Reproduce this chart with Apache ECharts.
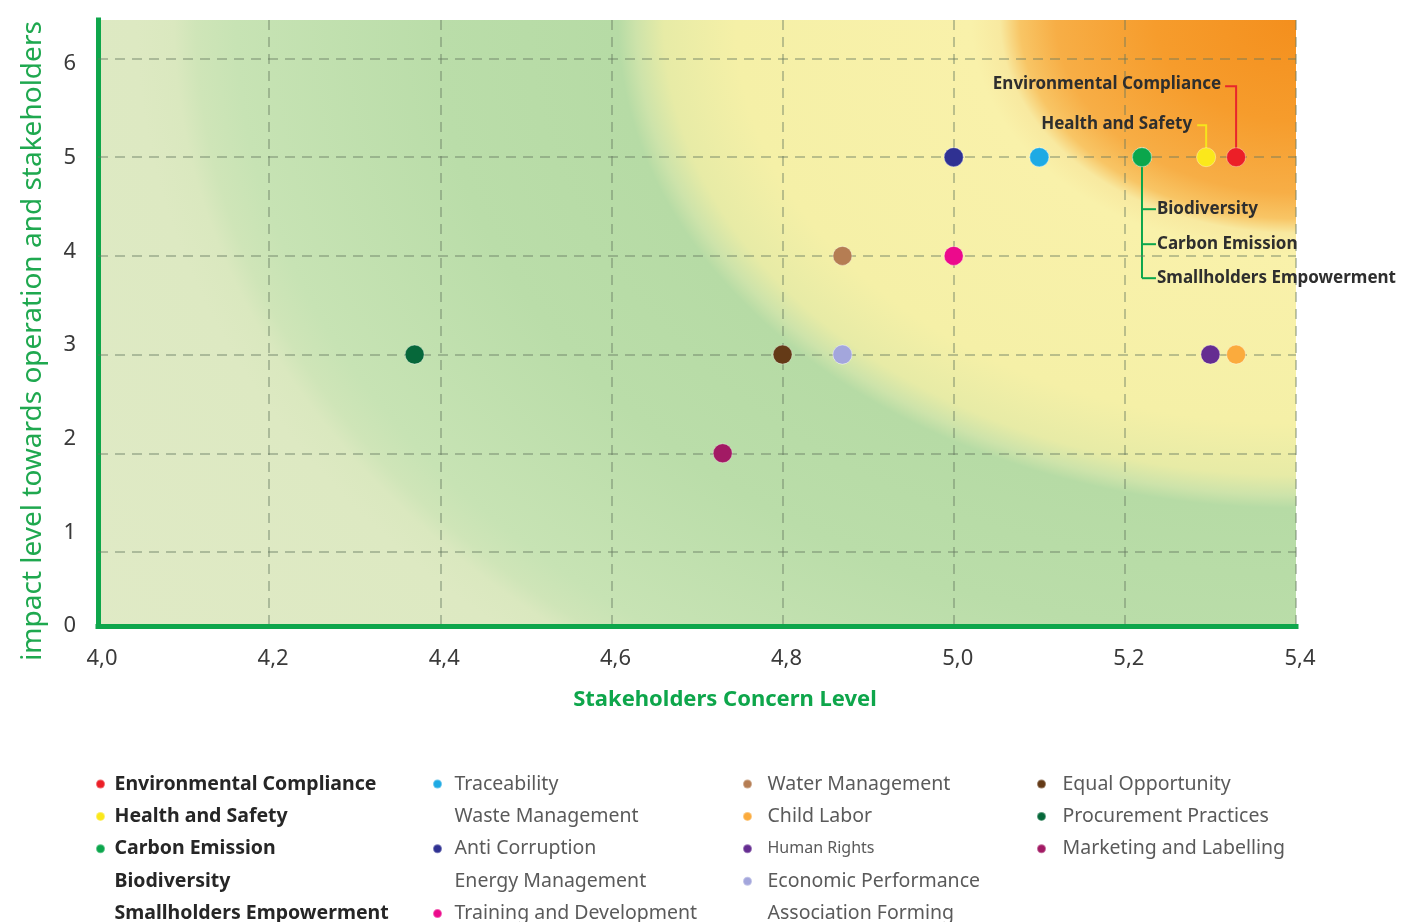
<!DOCTYPE html>
<html>
<head>
<meta charset="utf-8">
<title>Materiality Matrix</title>
<script src="https://cdn.jsdelivr.net/npm/echarts@6/dist/echarts.min.js"></script>
<style>
  html, body { margin: 0; padding: 0; background: #ffffff; }
  #chart { width: 1407px; height: 922px; }
</style>
</head>
<body>
<div id="chart"></div>
<script>
// ---------- data ----------
const topics = [
  'Environmental Compliance', 'Health and Safety', 'Carbon Emission', 'Biodiversity',
  'Smallholders Empowerment', 'Traceability', 'Waste Management', 'Anti Corruption',
  'Energy Management', 'Training and Development', 'Water Management', 'Child Labor',
  'Human Rights', 'Economic Performance', 'Association Forming', 'Equal Opportunity',
  'Procurement Practices', 'Marketing and Labelling'
];
// Stakeholders concern level (x)
const concern = [5.33, 5.295, 5.22, 5.22, 5.22, 5.10, 5.10, 5.00, 5.00, 5.00, 4.87, 5.33,
                 5.30, 4.87, 4.87, 4.80, 4.37, 4.73];
// Impact level towards operation and stakeholders (y)
const impact = [5, 5, 5, 5, 5, 5, 5, 5, 5, 4, 4, 3, 3, 3, 3, 3, 3, 2];

const impactLevels = [1, 2, 3, 4, 5, 6];
const concernMin = 4.0, concernMax = 5.4, concernStep = 0.2;

const legendColumns = [
  ['Environmental Compliance', 'Health and Safety', 'Carbon Emission', 'Biodiversity', 'Smallholders Empowerment'],
  ['Traceability', 'Waste Management', 'Anti Corruption', 'Energy Management', 'Training and Development'],
  ['Water Management', 'Child Labor', 'Human Rights', 'Economic Performance', 'Association Forming'],
  ['Equal Opportunity', 'Procurement Practices', 'Marketing and Labelling']
];
// topics that sit on the same dot as the entry listed above them
const sharedMarker = ['Biodiversity', 'Smallholders Empowerment', 'Waste Management',
                      'Energy Management', 'Association Forming'];

// ---------- styles ----------
const FONT = '"Noto Sans", "Open Sans", sans-serif';
const GREEN = '#0ea64b';
const colorOf = {
  'Environmental Compliance': '#ec1f27',
  'Health and Safety': '#fbe81b',
  'Carbon Emission': '#0ba64c',
  'Biodiversity': '#0ba64c',
  'Smallholders Empowerment': '#0ba64c',
  'Traceability': '#1eaae4',
  'Waste Management': '#1eaae4',
  'Anti Corruption': '#2f3192',
  'Energy Management': '#2f3192',
  'Training and Development': '#ec0a8c',
  'Water Management': '#b57d53',
  'Child Labor': '#fbab3d',
  'Human Rights': '#652d91',
  'Economic Performance': '#a3a6dc',
  'Association Forming': '#a3a6dc',
  'Equal Opportunity': '#643a17',
  'Procurement Practices': '#06683a',
  'Marketing and Labelling': '#a21a64'
};
const gridDash = { type: [10, 7], color: 'rgba(100,120,95,0.55)', width: 1.5 };

// background colour bands, by distance (px) from the top-right corner
const bgStops = [
  [0, '#f48f1d'], [140, '#f69c2c'], [240, '#f7ae46'], [276, '#f8c565'],
  [296, '#f8e9a0'], [325, '#f9f1aa'], [560, '#f5f0a7'], [632, '#e7eba6'],
  [660, '#cde3aa'], [678, '#b6dba5'], [860, '#badda9'], [1060, '#c7e3b4'],
  [1100, '#cfe5b8'], [1122, '#dae8bf'], [1160, '#dde9c2'], [1500, '#e0eac6']
];

const series = topics.map((t, i) => ({
  name: t,
  type: 'scatter',
  xAxisIndex: 0,
  yAxisIndex: 0,
  symbolSize: 19,
  z: 5,
  itemStyle: { color: colorOf[t], opacity: 1, borderColor: 'rgba(255,255,255,0.35)', borderWidth: 1 },
  emphasis: { disabled: true },
  data: [[concern[i], impact[i]]]
}));

// dashed horizontal grid lines at each impact level
series.push({
  name: 'levels',
  type: 'line',
  xAxisIndex: 0,
  yAxisIndex: 0,
  data: [],
  z: 1,
  markLine: {
    silent: true,
    symbol: ['none', 'none'],
    label: { show: false },
    lineStyle: gridDash,
    emphasis: { disabled: true },
    data: impactLevels.map(v => ({ yAxis: v }))
  }
});

const legendLayout = [
  { left: 95, itemWidth: 18 },
  { left: 432, itemWidth: 24 },
  { left: 742, itemWidth: 30 },
  { left: 1036, itemWidth: 32 }
];

const legends = legendColumns.map((col, c) => ({
  orient: 'vertical',
  left: legendLayout[c].left,
  top: 773,
  height: 200,
  padding: 0,
  itemWidth: legendLayout[c].itemWidth,
  itemHeight: 9,
  itemGap: 10.4,
  icon: 'circle',
  selectedMode: false,
  textStyle: {
    fontFamily: FONT,
    fontSize: 19.5,
    lineHeight: 22,
    color: c === 0 ? '#262626' : '#5a5a5a',
    fontWeight: c === 0 ? 'bold' : 'normal'
  },
  data: col.map(name => {
    const item = { name };
    if (sharedMarker.includes(name)) {
      item.itemStyle = { color: 'rgba(0,0,0,0)', borderWidth: 0, opacity: 0 };
    }
    if (name === 'Human Rights') {
      item.textStyle = { fontSize: 16, lineHeight: 22 };
    }
    return item;
  })
}));

const option = {
  backgroundColor: '#ffffff',
  animation: false,
  grid: { left: 98, right: 111, top: 20, bottom: 296, containLabel: false, outerBoundsMode: 'none' },
  xAxis: {
    type: 'value',
    min: concernMin,
    max: concernMax,
    interval: concernStep,
    name: 'Stakeholders Concern Level',
    nameLocation: 'middle',
    nameGap: 63,
    nameTextStyle: { fontFamily: FONT, fontSize: 22, fontWeight: 'bold', color: GREEN, padding: [0, 0, 0, 56] },
    axisLine: { show: true, lineStyle: { color: GREEN, width: 5, cap: 'square' } },
    axisTick: { show: false },
    axisLabel: {
      fontFamily: FONT, fontSize: 22, color: '#3a3a3a', margin: 22,
      padding: [0, 0, 0, 8],
      formatter: v => v.toFixed(1).replace('.', ',')
    },
    splitLine: { show: true, lineStyle: gridDash }
  },
  yAxis: [
    {
      // scale the points are placed on
      type: 'value',
      show: false,
      min: 0.25,
      max: 6.39,
      splitLine: { show: false }
    },
    {
      // labelled impact scale along the left edge
      type: 'value',
      position: 'left',
      min: 0,
      max: 6.47,
      interval: 1,
      name: 'impact level towards operation and stakeholders',
      nameLocation: 'middle',
      nameGap: 51,
      nameTextStyle: { fontFamily: FONT, fontSize: 28, color: '#1fa84f', padding: [0, 36, 0, 0] },
      axisLine: { show: true, lineStyle: { color: GREEN, width: 5, cap: 'square' } },
      axisTick: { show: false },
      axisLabel: {
        fontFamily: FONT, fontSize: 22, color: '#3a3a3a', margin: 22,
        padding: [0, 0, 6, 0],
        formatter: v => (Number.isInteger(v) ? String(v) : '')
      },
      splitLine: { show: false }
    }
  ],
  legend: legends,
  series: series
};

const chart = echarts.init(document.getElementById('chart'), null, { renderer: 'canvas' });
chart.setOption(option);

// ---------- background and callouts, placed from the axes ----------
function drawOverlay() {
  const idx = name => topics.indexOf(name);
  const pt = name => chart.convertToPixel({ seriesIndex: idx(name) }, [concern[idx(name)], impact[idx(name)]]);

  const plotLeft = chart.convertToPixel({ xAxisIndex: 0 }, concernMin);
  const plotRight = chart.convertToPixel({ xAxisIndex: 0 }, concernMax);
  const plotTop = chart.convertToPixel({ yAxisIndex: 0 }, 6.39);
  const plotBottom = chart.convertToPixel({ yAxisIndex: 0 }, 0.25);

  const squash = 0.72;
  const W = plotRight - plotLeft;
  const Hl = (plotBottom - plotTop) / squash;
  const R = 1500;
  const minSide = Math.min(W, Hl);

  const labelFont = 'bold 17px ' + FONT;
  const labelColor = '#2e2e2e';

  const elements = [{
    type: 'rect',
    silent: true,
    z: -1,
    x: plotLeft,
    y: plotTop,
    scaleY: squash,
    shape: { x: 0, y: 0, width: W, height: Hl },
    style: {
      fill: {
        type: 'radial', x: 1, y: 0, r: R / minSide, global: false,
        colorStops: bgStops.map(([d, c]) => ({ offset: d / R, color: c }))
      }
    }
  }];

  // Environmental Compliance callout
  const ec = pt('Environmental Compliance');
  elements.push({
    type: 'polyline', silent: true, z: 3,
    shape: { points: [[ec[0] - 11, ec[1] - 71], [ec[0], ec[1] - 71], [ec[0], ec[1]]] },
    style: { stroke: '#e8262c', lineWidth: 2, fill: null }
  });
  elements.push({
    type: 'text', silent: true, z: 6,
    x: ec[0] - 15, y: ec[1] - 73,
    style: { text: 'Environmental Compliance', font: labelFont, fill: labelColor, align: 'right', verticalAlign: 'middle' }
  });

  // Health and Safety callout
  const hs = pt('Health and Safety');
  elements.push({
    type: 'polyline', silent: true, z: 3,
    shape: { points: [[hs[0] - 9, hs[1] - 32], [hs[0], hs[1] - 32], [hs[0], hs[1]]] },
    style: { stroke: '#f6e51c', lineWidth: 2, fill: null }
  });
  elements.push({
    type: 'text', silent: true, z: 6,
    x: hs[0] - 14, y: hs[1] - 33,
    style: { text: 'Health and Safety', font: labelFont, fill: labelColor, align: 'right', verticalAlign: 'middle' }
  });

  // shared green dot: bracket listing its topics
  const ce = pt('Carbon Emission');
  const bracketTopics = ['Biodiversity', 'Carbon Emission', 'Smallholders Empowerment'];
  const bracketRows = [52, 87, 121];
  elements.push({
    type: 'line', silent: true, z: 3,
    shape: { x1: ce[0], y1: ce[1], x2: ce[0], y2: ce[1] + bracketRows[2] },
    style: { stroke: '#0ba64c', lineWidth: 2 }
  });
  bracketTopics.forEach((t, k) => {
    elements.push({
      type: 'line', silent: true, z: 3,
      shape: { x1: ce[0], y1: ce[1] + bracketRows[k], x2: ce[0] + 14, y2: ce[1] + bracketRows[k] },
      style: { stroke: '#0ba64c', lineWidth: 2 }
    });
    elements.push({
      type: 'text', silent: true, z: 6,
      x: ce[0] + 15, y: ce[1] + bracketRows[k],
      style: { text: t, font: labelFont, fill: labelColor, align: 'left', verticalAlign: 'middle' }
    });
  });

  chart.setOption({ graphic: { elements: elements } });
}
drawOverlay();
</script>
</body>
</html>
